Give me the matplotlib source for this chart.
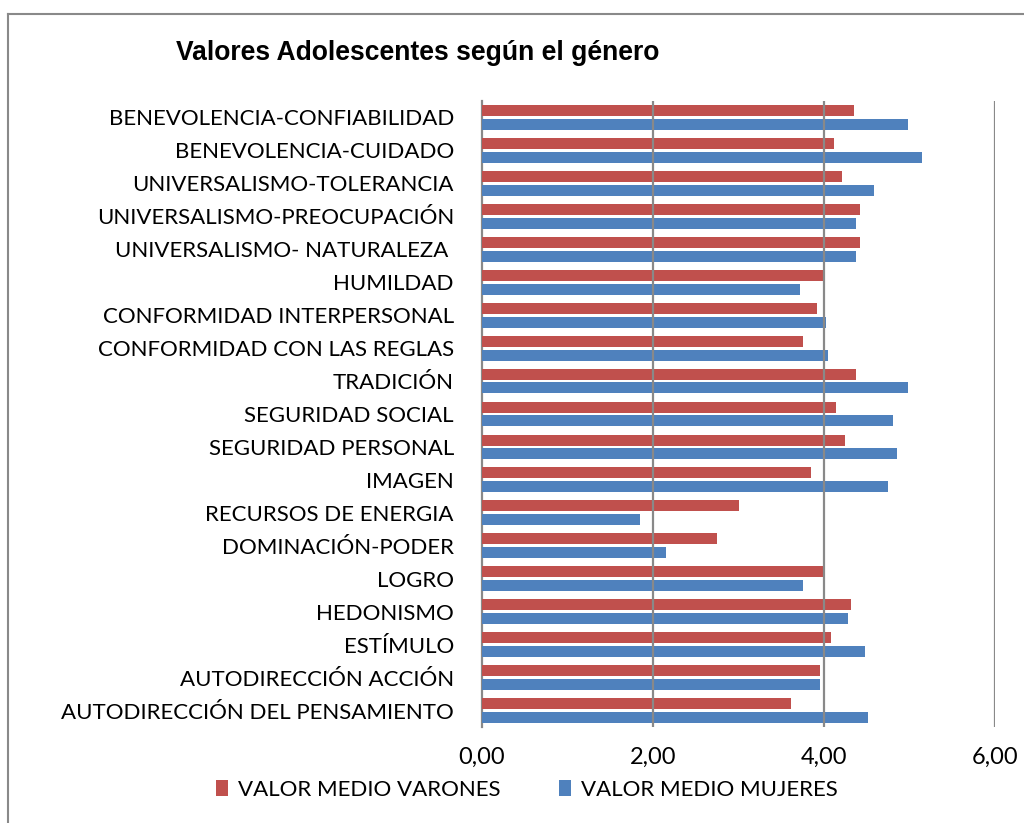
# Valores adolescentes según el género - barras horizontales agrupadas

import numpy as np
import matplotlib.pyplot as plt
from matplotlib.lines import Line2D

# categorías (de arriba hacia abajo)
categorias = [
    'BENEVOLENCIA-CONFIABILIDAD',
    'BENEVOLENCIA-CUIDADO',
    'UNIVERSALISMO-TOLERANCIA',
    'UNIVERSALISMO-PREOCUPACIÓN',
    'UNIVERSALISMO- NATURALEZA ',
    'HUMILDAD',
    'CONFORMIDAD INTERPERSONAL',
    'CONFORMIDAD CON LAS REGLAS',
    'TRADICIÓN',
    'SEGURIDAD SOCIAL',
    'SEGURIDAD PERSONAL',
    'IMAGEN',
    'RECURSOS DE ENERGIA',
    'DOMINACIÓN-PODER',
    'LOGRO',
    'HEDONISMO',
    'ESTÍMULO',
    'AUTODIRECCIÓN ACCIÓN',
    'AUTODIRECCIÓN DEL PENSAMIENTO',
]

varones = [4.35, 4.12, 4.21, 4.42, 4.42, 3.99, 3.92, 3.75, 4.38, 4.14,
           4.25, 3.85, 3.01, 2.75, 3.99, 4.32, 4.08, 3.95, 3.62]
mujeres = [4.98, 5.15, 4.58, 4.38, 4.38, 3.72, 4.02, 4.05, 4.98, 4.81,
           4.85, 4.75, 1.85, 2.15, 3.75, 4.28, 4.48, 3.95, 4.52]

x_ticks = [0, 2, 4, 6]
x_tick_labels = ['0,00', '2,00', '4,00', '6,00']

rojo = '#C0504D'
azul = '#4F81BD'
gris = '#898989'

fig = plt.figure(figsize=(10.24, 8.23), dpi=100)
ax = fig.add_axes([481.7 / 1024, 96 / 823, 513.3 / 1024, 626 / 823])

y = np.arange(len(categorias))
alto = 0.335
ax.barh(y - 0.21, varones, height=alto, color=rojo, label='VALOR MEDIO VARONES', zorder=3)
ax.barh(y + 0.21, mujeres, height=alto, color=azul, label='VALOR MEDIO MUJERES', zorder=3)

ax.set_ylim(len(categorias) - 0.5, -0.5)
ax.set_xlim(0, 6)
ax.set_yticks(y)
ax.set_yticklabels(categorias, fontfamily='Lato', fontsize=16)
ax.set_xticks(x_ticks)
ax.set_xticklabels(x_tick_labels, fontfamily='Lato', fontsize=17)
ax.tick_params(axis='y', length=0, pad=20)
ax.tick_params(axis='x', length=0, pad=14)

for s in ['top', 'right', 'bottom']:
    ax.spines[s].set_visible(False)
ax.spines['left'].set_color(gris)
ax.spines['left'].set_linewidth(1.6)
for xv in x_ticks[1:]:
    ax.axvline(xv, color=gris, lw=1.6, zorder=4)

# título
fig.text(176 / 1024, 1 - 53 / 823, 'Valores Adolescentes según el género',
         fontfamily='Liberation Sans', fontweight='bold', fontsize=19.1,
         ha='left', va='center')

# leyenda
leg = fig.legend(loc='center', bbox_to_anchor=(527 / 1024, 33 / 823), ncol=2,
                 frameon=False, handlelength=0.55, handleheight=0.75,
                 handletextpad=0.45, columnspacing=2.6,
                 prop={'family': 'Lato', 'size': 16})

# marco exterior
fig.add_artist(Line2D([8 / 1024, 8 / 1024], [0, 1 - 14 / 823], color=gris, lw=1.5,
                      transform=fig.transFigure))
fig.add_artist(Line2D([8 / 1024, 1], [1 - 14 / 823, 1 - 14 / 823], color=gris, lw=1.5,
                      transform=fig.transFigure))

plt.savefig('out.png', dpi=100)
